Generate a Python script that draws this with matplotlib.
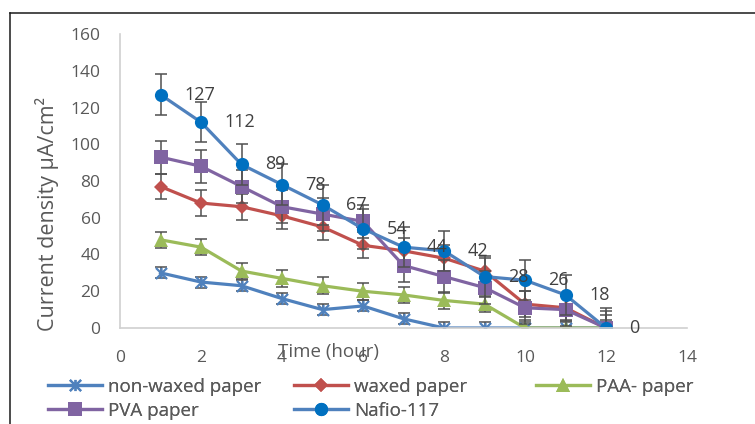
import matplotlib
matplotlib.use("Agg")
import matplotlib.pyplot as plt
from matplotlib.lines import Line2D
from matplotlib.path import Path

plt.rcParams['font.family'] = ['Open Sans', 'DejaVu Sans']

hours = [1, 2, 3, 4, 5, 6, 7, 8, 9, 10, 11, 12]
non_waxed = [30, 25, 23, 16, 10, 12, 5, 0, 0, 0, 0, 0]
waxed = [77, 68, 66, 61, 55, 45, 42, 38, 31, 13, 11, 0]
paa = [48, 44, 31, 27, 23, 20, 18, 15, 13, 0, 0, 0]
pva = [93, 88, 77, 66, 62, 58, 34, 28, 22, 11, 10, 0]
nafion = [127, 112, 89, 78, 67, 54, 44, 42, 28, 26, 18, 0]

# one fixed error value per membrane
err_non_waxed = 3
err_waxed = 7
err_paa = 4.5
err_pva = 9
err_nafion = 11

names = ['non-waxed paper', 'waxed paper', 'PAA- paper', 'PVA paper', 'Nafio-117']

# excel style "star": vertical bar plus an X
star = Path([(0, -1), (0, 1), (-1, -1), (1, 1), (-1, 1), (1, -1)],
            [Path.MOVETO, Path.LINETO] * 3)

styles = [
    dict(color='#4F81BD', marker=star, ms=8, mfc='#4F81BD', mec='#4F81BD', mew=1.6),
    dict(color='#C0504D', marker='D', ms=7, mfc='#C0504D', mec='#C0504D', mew=0),
    dict(color='#9BBB59', marker='^', ms=10, mfc='#9BBB59', mec='#9BBB59', mew=0),
    dict(color='#8064A2', marker='s', ms=10, mfc='#8064A2', mec='#8064A2', mew=0),
    dict(color='#4F81BD', marker='o', ms=9.5, mfc='#0070C0', mec='#0070C0', mew=0),
]
series = [non_waxed, waxed, paa, pva, nafion]
errors = [err_non_waxed, err_waxed, err_paa, err_pva, err_nafion]

fig = plt.figure(figsize=(7.55, 4.24), dpi=100)
ax = fig.add_axes([120 / 755, 1 - 328 / 424, 567 / 755, 294 / 424])

handles = []
for i, (vals, e, st) in enumerate(zip(series, errors, styles)):
    ax.errorbar(hours, vals, yerr=e, fmt='none', ecolor='#505050',
                elinewidth=1.1, capsize=4.3, capthick=1.1, zorder=2 + i * 0.1)
    h, = ax.plot(hours, vals, lw=2.3, zorder=2.05 + i * 0.1, **st)
    handles.append(h)

# value labels for the Nafion series
for x, y in zip(hours, nafion):
    ax.annotate(str(y), (x, y), xytext=(17, 0), textcoords='offset points',
                ha='left', va='center', fontsize=13, color='#404040')

ax.set_xlim(0, 14)
ax.set_ylim(0, 160)
ax.set_xticks(range(0, 15, 2))
ax.set_yticks(range(0, 161, 20))
ax.tick_params(axis='both', length=0, labelsize=12.5, labelcolor='#595959')
ax.tick_params(axis='x', pad=16)
ax.tick_params(axis='y', pad=14)
for s in ['top', 'right']:
    ax.spines[s].set_visible(False)
for s in ['left', 'bottom']:
    ax.spines[s].set_color('#D0D0D0')
    ax.spines[s].set_linewidth(1.2)

ax.set_xlabel('Time (hour)', fontsize=13.5, color='#595959')
ax.xaxis.set_label_coords((329 - 120) / 567, (328 - 352) / 294)
ax.xaxis.label.set_va('center')
ax.set_ylabel('Current density μA/cm²', fontsize=15.5, color='#595959')
ax.yaxis.set_label_coords((47 - 120) / 567, (328 - 214) / 294)
ax.yaxis.label.set_va('center')

# legend laid out as three columns, filled row by row
col_x = [48, 294, 536]
for c, x0 in enumerate(col_x):
    idx = [k for k in (c, c + 3) if k < len(handles)]
    leg = fig.legend([handles[k] for k in idx], [names[k] for k in idx],
                     loc='upper left', bbox_to_anchor=(x0 / 755, 1 - 378 / 424),
                     frameon=False, fontsize=13.5, handlelength=2.9,
                     handletextpad=0.3, labelspacing=0.32, borderpad=0,
                     borderaxespad=0, labelcolor='#595959')
    fig.add_artist(leg)

# outer frame
fx, fy = 10 / 755, 1 - 13 / 424
fig.add_artist(Line2D([fx, 1], [fy, fy], transform=fig.transFigure, color='#1a1a1a', lw=1.1))
fig.add_artist(Line2D([fx, fx], [fy, 0], transform=fig.transFigure, color='#1a1a1a', lw=1.1))

fig.savefig('out.png', dpi=100)
